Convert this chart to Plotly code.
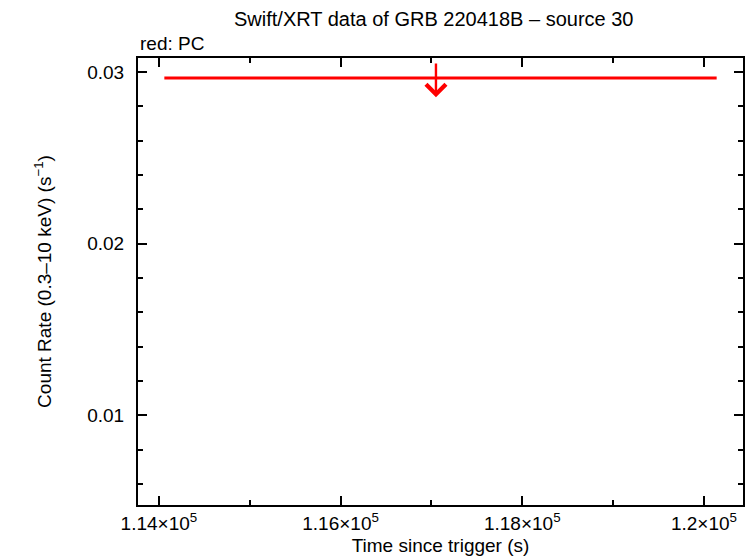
import plotly.graph_objects as go

# Data
time_center = [117050]
time_err_minus = [2990]
time_err_plus = [3090]
rate_upper_limit = [0.02965]

x_tick_vals = [114000, 116000, 118000, 120000]
x_tick_text = ["1.14×10<sup>5</sup>", "1.16×10<sup>5</sup>", "1.18×10<sup>5</sup>", "1.2×10<sup>5</sup>"]
y_tick_vals = [0.01, 0.02, 0.03]
y_tick_text = ["0.01", "0.02", "0.03"]

x_range = [113770, 120430]
y_range = [0.00477, 0.03081]

RED = "#ff0000"
FONT = "Liberation Sans, Arial, Helvetica, sans-serif"
FS = 19

fig = go.Figure()

fig.add_trace(go.Scatter(
    x=time_center, y=rate_upper_limit, mode="lines",
    line=dict(color=RED, width=0),
    error_x=dict(type="data", symmetric=False, array=time_err_plus,
                 arrayminus=time_err_minus, color=RED, thickness=3, width=0),
    showlegend=False, hoverinfo="skip",
))

# upper-limit arrow (stem above/below the limit, head at bottom)
up = 0.00093
down = 0.00113
for x, y in zip(time_center, rate_upper_limit):
    fig.add_annotation(
        x=x, y=y - down, ax=x, ay=y + up,
        xref="x", yref="y", axref="x", ayref="y",
        showarrow=True, arrowhead=4, arrowsize=1.6, arrowwidth=2.4,
        arrowcolor=RED, text="",
    )

fig.add_annotation(
    text="Swift/XRT data of GRB 220418B – source 30",
    xref="paper", yref="paper", x=0.49, y=1, yshift=39, yanchor="middle",
    showarrow=False, font=dict(size=20, color="black", family=FONT),
)
fig.add_annotation(
    text="red: PC", xref="paper", yref="paper", x=0, y=1, yshift=15,
    xanchor="left", yanchor="middle", showarrow=False,
    font=dict(size=FS, color="black", family=FONT),
)

axis_common = dict(
    showline=True, linecolor="black", linewidth=2, mirror="allticks",
    ticks="inside", tickcolor="black", tickwidth=2, ticklen=9,
    showgrid=False, zeroline=False, automargin=False,
    tickfont=dict(size=FS, color="black", family=FONT),
)

fig.update_xaxes(
    **axis_common, range=x_range, tickmode="array",
    tickvals=x_tick_vals, ticktext=x_tick_text, ticklabelstandoff=0,
    minor=dict(ticks="inside", ticklen=5, tickwidth=2, tickcolor="black", dtick=1000, showgrid=False),
    title=dict(text="Time since trigger (s)", font=dict(size=FS, color="black", family=FONT), standoff=6),
)
fig.update_yaxes(
    **axis_common, range=y_range, tickmode="array",
    tickvals=y_tick_vals, ticktext=y_tick_text, ticklabelstandoff=8,
    minor=dict(ticks="inside", ticklen=5, tickwidth=2, tickcolor="black", dtick=0.002, tick0=0, showgrid=False),
    title=dict(text="Count Rate (0.3–10 keV) (s<sup>−1</sup>)", font=dict(size=FS, color="black", family=FONT), standoff=31),
)

# the page places the figure 8px from the window's top-left corner
fig.update_layout(
    width=753, height=558,
    margin=dict(l=130, r=18, t=50, b=61),
    paper_bgcolor="white", plot_bgcolor="white",
)

fig.write_html("out.html")
